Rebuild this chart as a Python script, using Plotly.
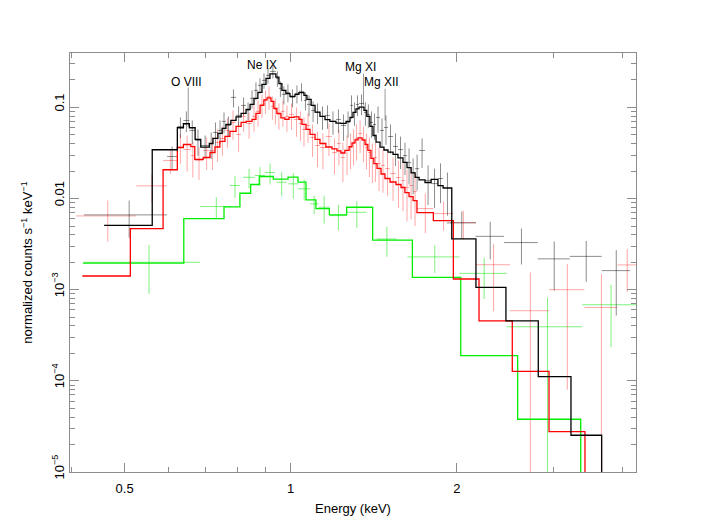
import numpy as np
import plotly.graph_objects as go

# ---- model step curves: bin edges (keV) and values (counts s^-1 keV^-1) ----
black_edges = [0.459, 0.561, 0.623, 0.639, 0.655, 0.671, 0.687, 0.712, 0.723, 0.738,
               0.751, 0.763, 0.779, 0.796, 0.813, 0.830, 0.844, 0.858, 0.872, 0.887,
               0.902, 0.917, 0.940, 0.952, 0.964, 0.980, 0.997, 1.018, 1.035, 1.057,
               1.070, 1.089, 1.107, 1.130, 1.154, 1.178, 1.208, 1.233, 1.260, 1.281,
               1.297, 1.313, 1.330, 1.358, 1.374, 1.392, 1.410, 1.428, 1.452, 1.476,
               1.501, 1.533, 1.565, 1.598, 1.625, 1.653, 1.681, 1.709, 1.752, 1.797,
               1.849, 1.889, 1.959, 2.167, 2.456, 2.811, 3.222, 3.663, 4.3]
black_model = [0.00509, 0.0343, 0.0598, 0.0662, 0.0598, 0.0445, 0.0366, 0.0402, 0.0457, 0.0518,
               0.0588, 0.0650, 0.0720, 0.0787, 0.0860, 0.0951, 0.1079, 0.1256, 0.1462, 0.179,
               0.2083, 0.2334, 0.2152, 0.1822, 0.1537, 0.1414, 0.1320, 0.1389, 0.1450, 0.1354,
               0.1225, 0.1052, 0.0888, 0.0797, 0.0733, 0.0702, 0.0672, 0.0667, 0.0702, 0.0777,
               0.0882, 0.0963, 0.1008, 0.0927, 0.0797, 0.0618, 0.0492, 0.0416, 0.0366, 0.0341,
               0.0323, 0.0305, 0.0279, 0.0249, 0.0219, 0.0191, 0.0171, 0.0160, 0.0150, 0.0162,
               0.0139, 0.0131, 0.00361, 0.00106, 0.000456, 0.000111, 2.53e-5, 1e-6]

red_edges = [0.419, 0.512, 0.587, 0.623, 0.639, 0.659, 0.670, 0.694, 0.714, 0.729,
             0.744, 0.760, 0.776, 0.796, 0.813, 0.830, 0.851, 0.865, 0.880, 0.894,
             0.906, 0.921, 0.932, 0.944, 0.960, 0.976, 0.993, 1.014, 1.035, 1.048,
             1.066, 1.084, 1.107, 1.130, 1.158, 1.188, 1.213, 1.233, 1.254, 1.276,
             1.292, 1.308, 1.325, 1.347, 1.364, 1.380, 1.398, 1.415, 1.434, 1.458,
             1.482, 1.514, 1.552, 1.585, 1.611, 1.639, 1.667, 1.694, 1.814, 1.972,
             2.195, 2.522, 2.940, 3.416, 4.3]
red_model = [0.001414, 0.00468, 0.0207, 0.0363, 0.0392, 0.0372, 0.0269, 0.0282, 0.0320, 0.0368,
             0.0423, 0.0480, 0.0545, 0.0618, 0.0685, 0.0702, 0.0738, 0.0860, 0.1052, 0.1209,
             0.1271, 0.1164, 0.0975, 0.0860, 0.0767, 0.0738, 0.0777, 0.0787, 0.0738, 0.0650,
             0.0573, 0.0505, 0.0445, 0.0402, 0.0368, 0.0350, 0.0333, 0.0316, 0.0337, 0.0372,
             0.0408, 0.0440, 0.0464, 0.0440, 0.0392, 0.0337, 0.0276, 0.0242, 0.0214, 0.0186,
             0.0166, 0.0152, 0.01426, 0.01322, 0.01164, 0.01052, 0.00951, 0.00702, 0.00573, 0.001311,
             0.000456, 0.000127, 2.77e-5, 1e-6]

green_edges = [0.420, 0.640, 0.757, 0.809, 0.846, 0.877, 0.930, 0.989, 1.031, 1.066,
               1.111, 1.175, 1.263, 1.408, 1.662, 2.034, 2.579, 3.356, 4.3]
green_model = [0.00196, 0.00603, 0.00811, 0.01143, 0.01426, 0.01745, 0.01638, 0.01715, 0.01511,
               0.00968, 0.00777, 0.00662, 0.00803, 0.0035, 0.001365, 0.000189, 3.79e-5, 1e-6]

# ---- data points (bin lo / hi in keV, flux, 1-sigma error) ----
black_lo = [0.422, 0.597] + black_edges[2:62] + [1.918, 2.163, 2.437, 2.804, 3.205, 3.663]
black_hi = [0.597, 0.622] + black_edges[3:63] + [2.167, 2.437, 2.804, 3.205, 3.663, 4.122]
black_flux = [0.00662, 0.0289,
              0.0618, 0.0719, 0.0559, 0.0434, 0.0382, 0.0402, 0.0531, 0.0559, 0.0702, 0.0634,
              0.1288, 0.0817, 0.1052, 0.0927, 0.1256, 0.1537, 0.1745, 0.198, 0.2247, 0.2487,
              0.2083, 0.1617, 0.1389, 0.1462, 0.1288, 0.1425, 0.1499, 0.1194, 0.1079, 0.0927,
              0.0881, 0.0796, 0.0817, 0.0702, 0.0738, 0.0634, 0.0684, 0.1052, 0.0881, 0.1079,
              0.1106, 0.0881, 0.0838, 0.0684, 0.0650, 0.0776, 0.0559, 0.0603, 0.0480, 0.0373,
              0.0345, 0.0296, 0.0249, 0.0193, 0.0213, 0.0337, 0.0158, 0.0146, 0.0166, 0.0129,
              0.00541, 0.00385, 0.00329, 0.00218, 0.00232, 0.00162]
black_err = [0.0029, 0.0083,
             0.0158, 0.0184, 0.0161, 0.0139, 0.0110, 0.0129, 0.0153, 0.0161, 0.0180, 0.0162,
             0.0289, 0.0209, 0.0236, 0.0208, 0.0281, 0.0344, 0.0339, 0.0384, 0.0436, 0.0408,
             0.0404, 0.0314, 0.0311, 0.0327, 0.0289, 0.0319, 0.0336, 0.0267, 0.0276, 0.0237,
             0.0226, 0.0229, 0.0235, 0.0202, 0.0213, 0.0204, 0.0220, 0.0303, 0.0254, 0.0276,
             0.0283, 0.0254, 0.0241, 0.0220, 0.0209, 0.0249, 0.0198, 0.0214, 0.0170, 0.0145,
             0.0134, 0.0115, 0.0106, 0.0082, 0.0091, 0.0120, 0.0073, 0.0067, 0.0077, 0.0064,
             0.0018, 0.0017, 0.0014, 0.0012, 0.0011, 0.0011]

red_lo = [0.408, 0.525] + red_edges[2:59] + [1.945, 2.167, 2.498, 2.940, 3.407, 3.910]
red_hi = [0.524, 0.596] + red_edges[3:60] + [2.167, 2.498, 2.940, 3.407, 3.910, 4.24]
red_flux = [0.00645, 0.0138,
            0.0262, 0.0373, 0.0345, 0.0296, 0.0262, 0.0337, 0.0337, 0.0413, 0.0456, 0.0559,
            0.0684, 0.0505, 0.0796, 0.0667, 0.0796, 0.0904, 0.1079, 0.1194, 0.1321, 0.1026,
            0.0951, 0.0838, 0.0904, 0.0796, 0.0838, 0.0738, 0.0667, 0.0573, 0.0634, 0.0468,
            0.0382, 0.0363, 0.0480, 0.0320, 0.0402, 0.0282, 0.0337, 0.0363, 0.0402, 0.0456,
            0.0518, 0.0434, 0.0363, 0.0320, 0.0275, 0.0282, 0.0242, 0.0231, 0.0213, 0.0188,
            0.0170, 0.0158, 0.0132, 0.0139, 0.0119, 0.00776, 0.00684,
            0.00545, 0.00188, 0.000588, 0.0010, 0.000639, 0.00187]
red_err = [0.0031, 0.0048,
           0.0075, 0.0132, 0.0147, 0.0126, 0.0102, 0.0131, 0.0131, 0.0161, 0.0162, 0.0198,
           0.0243, 0.0179, 0.0256, 0.0214, 0.0256, 0.0290, 0.0311, 0.0344, 0.0380, 0.0295,
           0.0305, 0.0269, 0.0290, 0.0256, 0.0269, 0.0262, 0.0237, 0.0203, 0.0225, 0.0182,
           0.0162, 0.0154, 0.0187, 0.0136, 0.0171, 0.0130, 0.0156, 0.0154, 0.0171, 0.0194,
           0.0202, 0.0184, 0.0154, 0.0148, 0.0127, 0.0130, 0.0121, 0.0115, 0.0106, 0.0094,
           0.0091, 0.0085, 0.0076, 0.0080, 0.0069, 0.0036, 0.0024,
           0.0019, 0.0013, 0.00096, 0.00092, 0.00085, 0.00093]

green_lo = [0.422, 0.685, 0.776, 0.820, 0.861, 0.898, 0.943, 0.990, 1.032, 1.084,
            1.122, 1.178, 1.263, 1.432, 1.628, 2.022, 2.464, 3.378]
green_hi = [0.685, 0.781, 0.809, 0.861, 0.898, 0.937, 0.983, 1.032, 1.084, 1.122,
            1.178, 1.263, 1.373, 1.556, 2.022, 2.464, 3.378, 4.24]
green_flux = [0.0020, 0.00817, 0.0139, 0.0171, 0.0179, 0.0193, 0.0151, 0.0145, 0.0128, 0.00874,
              0.00802, 0.0065, 0.00707, 0.0036, 0.00229, 0.00151, 0.000392, 0.000684]
green_err = [0.0011, 0.0022, 0.0037, 0.0041, 0.0042, 0.0050, 0.0045, 0.0045, 0.0033, 0.0020,
             0.0027, 0.0020, 0.0023, 0.0013, 0.00077, 0.00072, 0.00043, 0.00045]

# line identifications: label, energy of marker line, line top/bottom, label position
line_names = ["O VIII", "Ne IX", "Mg XI", "Mg XII"]
line_energy = [0.652, 0.902, 1.355, 1.483]
line_top = [0.165, None, 0.235, 0.160]
line_bottom = [0.061, None, 0.105, 0.072]
label_x = [0.648, 0.887, 1.336, 1.462]
label_y = [0.19, 0.289, 0.275, 0.19]

FONT = "Liberation Sans, Arial, Helvetica, sans-serif"
AXCOL = "#8c8c8c"

fig = go.Figure()


def add_data(lo, hi, flux, err, color):
    lo = np.array(lo)
    hi = np.array(hi)
    fig.add_trace(go.Scatter(
        x=(lo + hi) / 2, y=flux, mode="markers",
        marker=dict(size=2, color=color, opacity=0),
        error_x=dict(type="data", array=(hi - lo) / 2, color=color, thickness=1, width=0),
        error_y=dict(type="data", array=err, color=color, thickness=1, width=0),
        showlegend=False, hoverinfo="skip"))


def add_model(edges, vals, color):
    fig.add_trace(go.Scatter(
        x=edges, y=list(vals) + [vals[-1]], mode="lines",
        line=dict(shape="hv", color=color, width=1.3),
        showlegend=False, hoverinfo="skip"))


add_data(green_lo, green_hi, green_flux, green_err, "rgba(0,230,0,0.5)")
add_data(red_lo, red_hi, red_flux, red_err, "rgba(255,0,0,0.35)")
add_data(black_lo, black_hi, black_flux, black_err, "rgba(0,0,0,0.45)")

add_model(green_edges, green_model, "#00ee00")
add_model(red_edges, red_model, "#ff0000")
add_model(black_edges, black_model, "#000000")

for name, e, top, bot, lx, ly in zip(line_names, line_energy, line_top, line_bottom, label_x, label_y):
    if top is not None:
        fig.add_trace(go.Scatter(x=[e, e], y=[bot, top], mode="lines",
                                 line=dict(color="rgba(0,0,0,0.4)", width=1),
                                 showlegend=False, hoverinfo="skip"))
    fig.add_annotation(x=np.log10(lx), y=np.log10(ly), text=name, showarrow=False,
                       font=dict(family=FONT, size=12, color="black"))

minor_y = [k * 10.0 ** d for d in range(-5, 0) for k in range(2, 10)]

fig.update_xaxes(type="log", range=[np.log10(0.398), np.log10(4.227)],
                 tickmode="array", tickvals=[0.5, 1, 2], ticktext=["0.5", "1", "2"],
                 ticks="inside", ticklen=9, tickwidth=1, tickcolor=AXCOL,
                 showline=True, linecolor=AXCOL, linewidth=1, mirror="allticks",
                 showgrid=False, zeroline=False, ticklabelstandoff=4,
                 minor=dict(tickmode="array", tickvals=[0.4, 0.6, 0.7, 0.8, 0.9, 3, 4],
                            ticks="inside", ticklen=5, tickcolor=AXCOL, showgrid=False),
                 tickfont=dict(family=FONT, size=13, color="black"),
                 title=dict(text="Energy (keV)", standoff=9,
                            font=dict(family=FONT, size=13, color="black")))
fig.update_yaxes(type="log", range=[-5, -0.403],
                 tickmode="array", tickvals=[1e-5, 1e-4, 1e-3, 0.01, 0.1],
                 ticktext=["10<sup>\u22125</sup>", "10<sup>\u22124</sup>", "10<sup>\u22123</sup>", "0.01", "0.1"],
                 tickangle=-90, ticklabelshift=-3,
                 ticks="inside", ticklen=9, tickwidth=1, tickcolor=AXCOL,
                 showline=True, linecolor=AXCOL, linewidth=1, mirror="allticks",
                 showgrid=False, zeroline=False,
                 minor=dict(tickmode="array", tickvals=minor_y,
                            ticks="inside", ticklen=5, tickcolor=AXCOL, showgrid=False),
                 tickfont=dict(family=FONT, size=13, color="black"),
                 title=dict(text="normalized counts s<sup>\u22121</sup> keV<sup>\u22121</sup>", standoff=14,
                            font=dict(family=FONT, size=13, color="black")))

# the page body adds an 8 px margin, so the figure is a little smaller than the window
fig.update_layout(width=699, height=517,
                  margin=dict(l=62, r=71, t=45, b=53),
                  paper_bgcolor="white", plot_bgcolor="white",
                  font=dict(family=FONT, size=13, color="black"))

fig.write_html("out.html")
